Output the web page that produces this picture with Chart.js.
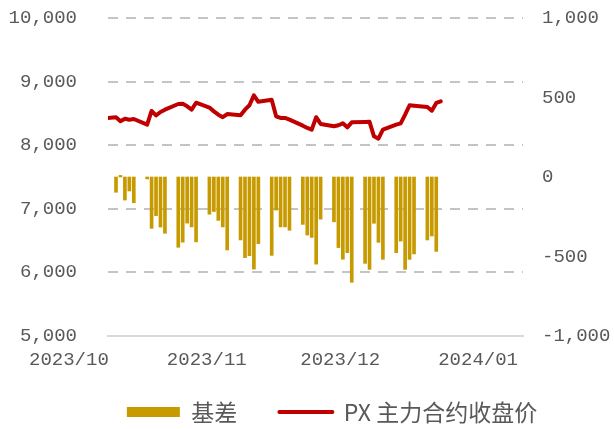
<!DOCTYPE html>
<html>
<head>
<meta charset="utf-8">
<script src="https://cdn.jsdelivr.net/npm/chart.js@4/dist/chart.umd.min.js"></script>
<style>
    html, body { margin: 0; padding: 0; background: #fff; }
    #wrap { width: 614px; height: 429px; }
</style>
</head>
<body>
<div id="wrap"><canvas id="basisChart" width="614" height="429"></canvas></div>
<script>
(function () {
    "use strict";

    // trading days (Sep 28 is only there so the line runs into the left edge)
    var tradeDates = [
        '2023-09-28',
        '2023-10-09', '2023-10-10', '2023-10-11', '2023-10-12', '2023-10-13',
        '2023-10-16', '2023-10-17', '2023-10-18', '2023-10-19', '2023-10-20',
        '2023-10-23', '2023-10-24', '2023-10-25', '2023-10-26', '2023-10-27',
        '2023-10-30', '2023-10-31', '2023-11-01', '2023-11-02', '2023-11-03',
        '2023-11-06', '2023-11-07', '2023-11-08', '2023-11-09', '2023-11-10',
        '2023-11-13', '2023-11-14', '2023-11-15', '2023-11-16', '2023-11-17',
        '2023-11-20', '2023-11-21', '2023-11-22', '2023-11-23', '2023-11-24',
        '2023-11-27', '2023-11-28', '2023-11-29', '2023-11-30', '2023-12-01',
        '2023-12-04', '2023-12-05', '2023-12-06', '2023-12-07', '2023-12-08',
        '2023-12-11', '2023-12-12', '2023-12-13', '2023-12-14', '2023-12-15',
        '2023-12-18', '2023-12-19', '2023-12-20', '2023-12-21'
    ];

    // 基差 (right axis)
    var basis = [
        null,
        -96, 10, -145, -88, -162,
        -12, -323, -243, -315, -354,
        -442, -410, -290, -314, -408,
        -234, -217, -273, -314, -459,
        -396, -507, -495, -579, -419,
        -493, -208, -314, -314, -335,
        -298, -365, -380, -548, -265,
        -282, -444, -517, -476, -662,
        -543, -581, -291, -411, -518,
        -476, -403, -581, -518, -484,
        -396, -371, -468, null
    ];

    // PX 主力合约收盘价 (left axis)
    var pxClose = [
        8360,
        8439, 8376, 8417, 8401, 8412,
        8323, 8538, 8468, 8522, 8559,
        8648, 8650, 8612, 8560, 8668,
        8592, 8532, 8480, 8440, 8490,
        8470, 8559, 8628, 8785, 8682,
        8716, 8455, 8428, 8428, 8401,
        8307, 8271, 8244, 8440, 8334,
        8297, 8313, 8344, 8281, 8360,
        8365, 8368, 8140, 8103, 8244,
        8323, 8344, 8480, 8628, 8622,
        8601, 8543, 8664, 8690
    ];

    var xTickLabels = ['2023/10', '2023/11', '2023/12', '2024/01'];
    var monthStarts = ['2023-10-01', '2023-11-01', '2023-12-01', '2024-01-01'];

    var numFont = { family: "'Liberation Mono'", size: 19 };
    var txtColor = '#595959';

    // days counted from 2023-10-01
    function dayOf(s) {
        var p = s.split('-');
        return (Date.UTC(+p[0], +p[1] - 1, +p[2]) - Date.UTC(2023, 9, 1)) / 86400000;
    }

    var barPoints = [];
    var linePoints = [];
    for (var i = 0; i < tradeDates.length; i++) {
        var d = dayOf(tradeDates[i]);
        if (basis[i] !== null) barPoints.push({ x: d, y: basis[i] });
        linePoints.push({ x: d, y: pxClose[i] });
    }

    // legend: small box in the layout, then moved to where the original has its row
    var legendPlace = {
        id: 'legendPlace',
        beforeLayout: function (chart) {
            var lg = chart.legend;
            if (lg && !lg._fixedFit) {
                var orig = lg.fit;
                lg.fit = function () {
                    orig.call(this);
                    this.height = 53;
                };
                lg._fixedFit = true;
            }
        },
        afterLayout: function (chart) {
            var lg = chart.legend;
            if (!lg) return;
            lg.left = 50;
            lg.right = chart.width;
            lg.width = lg.right - lg.left;
            lg.top = 358.5;
            lg.bottom = chart.height;
            lg.height = lg.bottom - lg.top;
        }
    };

    var ctx = document.getElementById('basisChart').getContext('2d');
    var chart = new Chart(ctx, {
        data: {
            datasets: [{
                type: 'bar',
                label: '基差',
                data: barPoints,
                yAxisID: 'yR',
                backgroundColor: '#C79A00',
                barThickness: 3,
                order: 2
            }, {
                type: 'line',
                label: 'PX 主力合约收盘价',
                data: linePoints,
                yAxisID: 'yL',
                borderColor: '#C00000',
                borderWidth: 4,
                borderJoinStyle: 'round',
                borderCapStyle: 'round',
                pointRadius: 0,
                tension: 0,
                order: 1
            }]
        },
        options: {
            responsive: false,
            animation: false,
            layout: { padding: { left: 0, top: 18, right: 0, bottom: 0 } },
            scales: {
                x: {
                    type: 'linear',
                    min: 6.2,
                    max: 99.5,
                    offset: false,
                    grid: { display: false, drawTicks: false },
                    border: { display: true, color: '#d9d9d9', width: 2 },
                    afterBuildTicks: function (scale) {
                        // month labels sit ~2.65 days before month start, shifted back by labelOffset
                        scale.ticks = monthStarts.map(function (m) {
                            return { value: dayOf(m) - 2.65 + 9.5 };
                        });
                    },
                    ticks: {
                        autoSkip: false,
                        maxRotation: 0,
                        labelOffset: -42,
                        padding: 13,
                        color: txtColor,
                        font: numFont,
                        callback: function (v, idx) {
                            return xTickLabels[idx];
                        }
                    },
                    afterFit: function (scale) {
                        scale.height = 40;
                    }
                },
                yL: {
                    position: 'left',
                    min: 5000,
                    max: 10000,
                    grid: {
                        drawTicks: false,
                        lineWidth: 2,
                        color: function (c) {
                            return c.tick && c.tick.value === 5000 ? 'rgba(0,0,0,0)' : '#c4c4c4';
                        }
                    },
                    border: { display: false, dash: [10, 8] },
                    ticks: {
                        stepSize: 1000,
                        padding: 31,
                        color: txtColor,
                        font: numFont,
                        callback: function (v) {
                            return v.toLocaleString('en-US');
                        }
                    },
                    afterFit: function (scale) {
                        scale.width = 108;
                        scale.paddingTop = 0;
                        scale.paddingBottom = 0;
                    }
                },
                yR: {
                    position: 'right',
                    min: -1000,
                    max: 1000,
                    grid: { display: false, drawTicks: false },
                    border: { display: false },
                    ticks: {
                        stepSize: 500,
                        padding: 19,
                        color: txtColor,
                        font: numFont,
                        callback: function (v) {
                            return v.toLocaleString('en-US');
                        }
                    },
                    afterFit: function (scale) {
                        scale.width = 91;
                        scale.paddingTop = 0;
                        scale.paddingBottom = 0;
                    }
                }
            },
            plugins: {
                tooltip: { enabled: false },
                legend: {
                    position: 'bottom',
                    labels: {
                        usePointStyle: true,
                        pointStyleWidth: 53,
                        boxHeight: 10,
                        padding: 42,
                        color: txtColor,
                        font: { family: "'Noto Sans CJK SC'", size: 23 },
                        generateLabels: function (ch) {
                            return ch.data.datasets.map(function (ds, k) {
                                var isBar = ds.type === 'bar';
                                return {
                                    text: ds.label,
                                    datasetIndex: k,
                                    fillStyle: isBar ? ds.backgroundColor : ds.borderColor,
                                    strokeStyle: isBar ? ds.backgroundColor : ds.borderColor,
                                    lineWidth: isBar ? 0 : 4,
                                    lineCap: 'round',
                                    pointStyle: isBar ? 'rect' : 'line',
                                    fontColor: txtColor,
                                    hidden: false
                                };
                            });
                        }
                    }
                }
            }
        },
        plugins: [legendPlace]
    });
})();
</script>
</body>
</html>
